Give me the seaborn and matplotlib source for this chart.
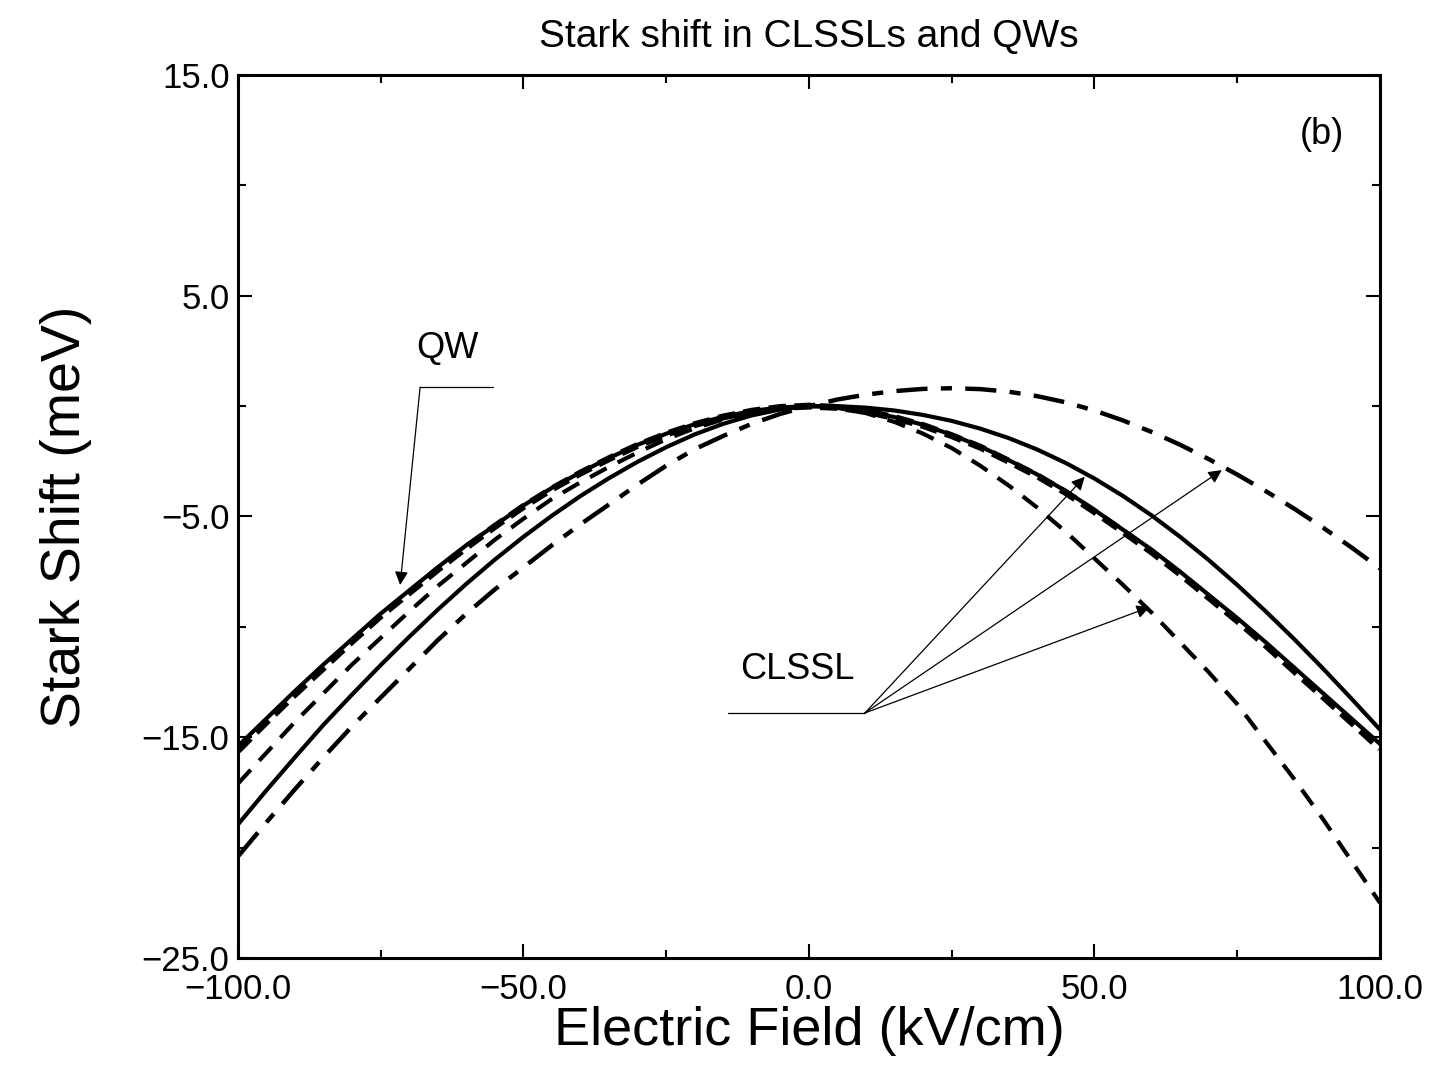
import matplotlib
matplotlib.use("Agg")
import matplotlib.pyplot as plt
import seaborn as sns
from matplotlib.ticker import MultipleLocator, FuncFormatter

# field values (kV/cm), step 5
field = list(range(-100, 101, 5))

# Stark shift (meV)
qw_a = [-15.4, -14.15, -12.9, -11.7, -10.55, -9.4, -8.35, -7.3, -6.3, -5.4,
        -4.5, -3.7, -3.0, -2.35, -1.75, -1.25, -0.82, -0.48, -0.22, -0.06,
        0.0,
        -0.06, -0.23, -0.5, -0.85, -1.3, -1.82, -2.45, -3.1, -3.85, -4.7,
        -5.6, -6.5, -7.5, -8.55, -9.6, -10.7, -11.85, -13.0, -14.15, -15.3]
qw_b = [-15.6, -14.3, -13.05, -11.85, -10.65, -9.5, -8.45, -7.4, -6.4, -5.45,
        -4.55, -3.75, -3.03, -2.38, -1.78, -1.27, -0.84, -0.49, -0.23, -0.06,
        0.0,
        -0.06, -0.24, -0.52, -0.88, -1.34, -1.86, -2.5, -3.16, -3.92, -4.78,
        -5.68, -6.6, -7.6, -8.66, -9.72, -10.83, -12.0, -13.15, -14.32, -15.5]
clssl_dash = [-17.1, -15.7, -14.3, -13.0, -11.7, -10.5, -9.3, -8.15, -7.1, -6.05,
              -5.1, -4.2, -3.45, -2.75, -2.1, -1.5, -1.0, -0.6, -0.3, -0.08,
              0.0,
              -0.08, -0.32, -0.72, -1.25, -1.9, -2.7, -3.6, -4.6, -5.7, -6.9,
              -8.1, -9.35, -10.7, -12.05, -13.5, -15.2, -16.9, -18.7, -20.6, -22.5]
clssl_solid = [-18.95, -17.4, -15.9, -14.43, -13.06, -11.73, -10.45, -9.22, -8.05, -6.95,
               -5.92, -4.96, -4.07, -3.26, -2.52, -1.86, -1.28, -0.8, -0.42, -0.15,
               0.0,
               0.0, -0.07, -0.2, -0.4, -0.67, -1.02, -1.45, -1.97, -2.58, -3.28,
               -4.07, -4.95, -5.92, -6.97, -8.1, -9.3, -10.56, -11.88, -13.25, -14.65]
clssl_dashdot = [-20.4, -18.85, -17.35, -15.9, -14.5, -13.2, -11.9, -10.6, -9.4, -8.3,
                 -7.3, -6.3, -5.35, -4.45, -3.55, -2.7, -1.95, -1.35, -0.8, -0.35,
                 0.0,
                 0.3, 0.52, 0.68, 0.78, 0.81, 0.77, 0.65, 0.45, 0.17, -0.2,
                 -0.65, -1.17, -1.75, -2.4, -3.1, -3.85, -4.65, -5.5, -6.4, -7.35]

sns.set_style("ticks", rc={"text.color": "black", "axes.labelcolor": "black",
                           "xtick.color": "black", "ytick.color": "black",
                           "axes.edgecolor": "black"})
plt.rcParams["font.family"] = ["Liberation Sans", "DejaVu Sans"]

fig = plt.figure(figsize=(14.37, 10.71), dpi=100)
ax = fig.add_axes([0.1656, 0.1055, 0.7947, 0.8245])

# QW curves (thick bundle)
sns.lineplot(x=field, y=qw_a, ax=ax, color="black", lw=3.0)
sns.lineplot(x=field, y=qw_b, ax=ax, color="black", lw=5.0,
             linestyle=(0, (2.5, 1.2)))
# CLSSL curves
sns.lineplot(x=field, y=clssl_dash, ax=ax, color="black", lw=3.0,
             linestyle=(0, (4.5, 3.0)))
sns.lineplot(x=field, y=clssl_solid, ax=ax, color="black", lw=3.0)
sns.lineplot(x=field, y=clssl_dashdot, ax=ax, color="black", lw=3.2,
             linestyle=(0, (7.0, 3.0, 2.5, 3.0)))

ax.set_xlim(-100, 100)
ax.set_ylim(-25, 15)
ax.xaxis.set_major_locator(MultipleLocator(50))
ax.xaxis.set_minor_locator(MultipleLocator(25))
ax.yaxis.set_minor_locator(MultipleLocator(5))
ax.set_yticks([15, 5, -5, -15, -25])
fmt = FuncFormatter(lambda v, p: f"{v:.1f}".replace("-", "\u2212"))
ax.xaxis.set_major_formatter(fmt)
ax.yaxis.set_major_formatter(fmt)
ax.tick_params(which="both", direction="in", top=True, right=True,
               width=1.5, labelsize=25)
ax.tick_params(axis="x", which="major", length=10, pad=11)
ax.tick_params(axis="y", which="major", length=10, pad=6)
ax.tick_params(which="minor", length=6)
for s in ax.spines.values():
    s.set_linewidth(2.2)

ax.set_xlabel("Electric Field (kV/cm)", fontsize=39, labelpad=0)
ax.set_ylabel("Stark Shift (meV)", fontsize=40, labelpad=36)
ax.set_title("Stark shift in CLSSLs and QWs", fontsize=28, pad=20)

ax.text(89.8, 12.3, "(b)", fontsize=26, ha="center", va="center")

# QW callout
ax.text(-63.4, 2.6, "QW", fontsize=26, ha="center", va="center")
ax.plot([-55.3, -68.1], [0.86, 0.86], color="black", lw=0.9)
ax.annotate("", xy=(-71.6, -8.1), xytext=(-68.1, 0.86),
            arrowprops=dict(arrowstyle="-|>", color="black", lw=0.9,
                            mutation_scale=20, shrinkA=0, shrinkB=0))

# CLSSL callout
ax.text(-2.1, -11.95, "CLSSL", fontsize=26, ha="center", va="center")
ax.plot([-14.2, 9.8], [-13.9, -13.9], color="black", lw=0.9)
for tip in [(48.3, -3.2), (72.3, -2.9), (59.7, -9.1)]:
    ax.annotate("", xy=tip, xytext=(9.8, -13.9),
                arrowprops=dict(arrowstyle="-|>", color="black", lw=0.9,
                                mutation_scale=20, shrinkA=0, shrinkB=0))

fig.savefig("out.png", dpi=100)
